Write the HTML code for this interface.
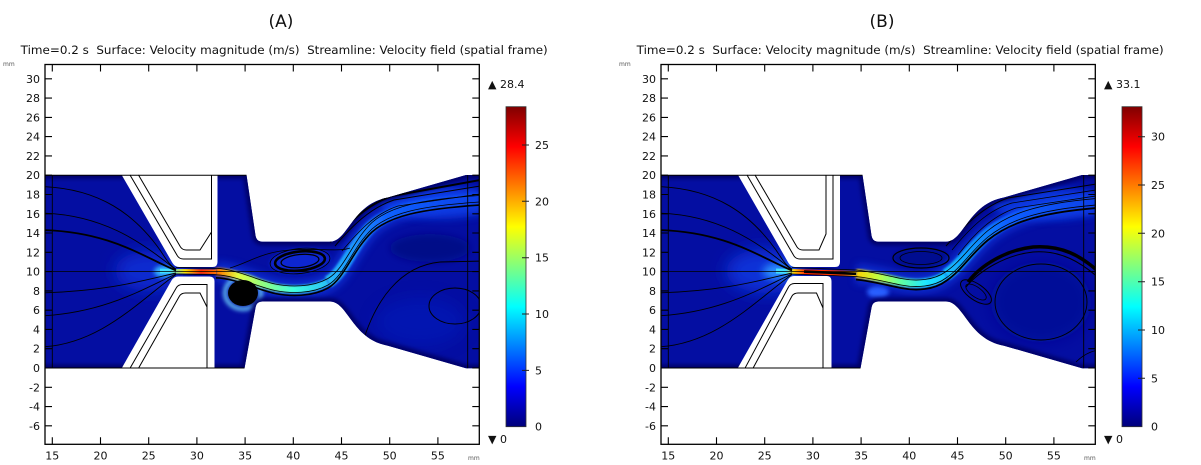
<!DOCTYPE html>
<html><head><meta charset="utf-8">
<style>
html,body{margin:0;padding:0;background:#fff}
svg{display:block}
text{font-family:"DejaVu Sans","Liberation Sans",sans-serif;fill:#111}
</style></head>
<body>
<svg xmlns="http://www.w3.org/2000/svg" xmlns:xlink="http://www.w3.org/1999/xlink" width="1201" height="465" viewBox="0 0 1201 465">
<defs>
  <linearGradient id="cbar" x1="0" y1="1" x2="0" y2="0">
    <stop offset="0" stop-color="#00007a"/>
    <stop offset="0.125" stop-color="#0000ff"/>
    <stop offset="0.375" stop-color="#00ffff"/>
    <stop offset="0.625" stop-color="#ffff00"/>
    <stop offset="0.875" stop-color="#ff0000"/>
    <stop offset="1" stop-color="#800000"/>
  </linearGradient>
  <linearGradient id="jA" gradientUnits="userSpaceOnUse" x1="170" y1="0" x2="480" y2="0">
    <stop offset="0" stop-color="#40e0ff"/>
    <stop offset="0.05" stop-color="#ffe000"/>
    <stop offset="0.1" stop-color="#ff3000"/>
    <stop offset="0.16" stop-color="#ff8000"/>
    <stop offset="0.22" stop-color="#e0ff40"/>
    <stop offset="0.3" stop-color="#90ff80"/>
    <stop offset="0.4" stop-color="#40ffe0"/>
    <stop offset="0.55" stop-color="#20a8ff"/>
    <stop offset="0.7" stop-color="#1060ff"/>
    <stop offset="1" stop-color="#0c40e8"/>
  </linearGradient>
  <linearGradient id="jB" gradientUnits="userSpaceOnUse" x1="170" y1="0" x2="480" y2="0">
    <stop offset="0" stop-color="#40e0ff"/>
    <stop offset="0.026" stop-color="#ffd000"/>
    <stop offset="0.065" stop-color="#ff2000"/>
    <stop offset="0.177" stop-color="#ff4000"/>
    <stop offset="0.226" stop-color="#ffd000"/>
    <stop offset="0.297" stop-color="#c0ff40"/>
    <stop offset="0.37" stop-color="#60ffa0"/>
    <stop offset="0.45" stop-color="#20e8ff"/>
    <stop offset="0.565" stop-color="#10a8ff"/>
    <stop offset="0.71" stop-color="#1060ff"/>
    <stop offset="1" stop-color="#0c40e8"/>
  </linearGradient>
  <clipPath id="plot"><rect x="45" y="64.5" width="434.3" height="379.8"/></clipPath>
  <path id="domain" d="M 40,175 L 246.5,175 L 255.5,235.5 Q 256.5,241.7 262.5,241.7 L 330,241.7 C 348,241.7 352,204 388,197.5 L 466,175 L 485,175 L 485,368.2 L 466,368.2 L 388,345.7 C 352,339.2 348,301.5 330,301.5 L 262.5,301.5 Q 256.5,301.5 255.5,307.7 L 244.5,368.2 L 40,368.2 Z"/>
  <clipPath id="dom"><use xlink:href="#domain"/></clipPath>
  <filter id="b1" x="-50%" y="-50%" width="200%" height="200%"><feGaussianBlur stdDeviation="1"/></filter>
  <filter id="b2" x="-50%" y="-50%" width="200%" height="200%"><feGaussianBlur stdDeviation="2"/></filter>
  <filter id="b4" x="-50%" y="-50%" width="200%" height="200%"><feGaussianBlur stdDeviation="4"/></filter>
  <filter id="b8" x="-50%" y="-50%" width="200%" height="200%"><feGaussianBlur stdDeviation="8"/></filter>
  <g id="leftlines" fill="none" stroke="#000">
    <path d="M 40,186.5 C 100,188 135,215 160,250 C 166,259 170,266 176,269" stroke-width="0.9"/>
    <path d="M 40,213 C 100,214 140,240 176,270" stroke-width="0.9"/>
    <path d="M 40,230 C 110,231 145,258 176,270.5" stroke-width="1.8"/>
    <path d="M 40,293 C 110,291 145,280 176,273" stroke-width="0.9"/>
    <path d="M 40,316 C 105,313 145,288 176,274" stroke-width="0.9"/>
    <path d="M 40,347 C 100,345 140,300 176,274.5" stroke-width="0.9"/>
    <path d="M 40,271.6 L 485,271.6" stroke-width="0.8"/>
    <path d="M 52.3,175 L 52.3,368.2" stroke-width="0.9"/>
    <path d="M 467.7,175 L 467.7,368.2" stroke-width="0.9"/>
    <path d="M 40,175.2 L 246.5,175.2 M 40,368 L 244.5,368" stroke-width="1"/>
  </g>
  <g id="axes" fill="none" stroke="#000">
    <rect x="45" y="64.5" width="434.3" height="379.8" stroke-width="1.3"/>
    <path stroke-width="1.1" d="M45,78.8h7M45,98.1h7M45,117.4h7M45,136.6h7M45,155.9h7M45,175.2h7M45,194.5h7M45,213.8h7M45,233h7M45,252.3h7M45,271.6h7M45,290.9h7M45,310.2h7M45,329.4h7M45,348.7h7M45,368h7M45,387.3h7M45,406.6h7M45,425.8h7
    M479.3,78.8h-7M479.3,98.1h-7M479.3,117.4h-7M479.3,136.6h-7M479.3,155.9h-7M479.3,175.2h-7M479.3,194.5h-7M479.3,213.8h-7M479.3,233h-7M479.3,252.3h-7M479.3,271.6h-7M479.3,290.9h-7M479.3,310.2h-7M479.3,329.4h-7M479.3,348.7h-7M479.3,368h-7M479.3,387.3h-7M479.3,406.6h-7M479.3,425.8h-7
    M52.3,444.3v-7M100.5,444.3v-7M148.7,444.3v-7M196.9,444.3v-7M245.1,444.3v-7M293.3,444.3v-7M341.5,444.3v-7M389.7,444.3v-7M437.9,444.3v-7
    M52.3,64.5v7M100.5,64.5v7M148.7,64.5v7M196.9,64.5v7M245.1,64.5v7M293.3,64.5v7M341.5,64.5v7M389.7,64.5v7M437.9,64.5v7"/>
  </g>
</defs>

<!-- ================= PANEL A ================= -->
<g>
  <g clip-path="url(#plot)">
    <use xlink:href="#domain" fill="#040ea2"/>
    <g clip-path="url(#dom)">
      <ellipse cx="150" cy="271" rx="35" ry="20" fill="#0a2cd0" filter="url(#b8)"/>
      <ellipse cx="164" cy="271.5" rx="10" ry="6" fill="#30b0ff" filter="url(#b2)"/>
      <ellipse cx="440" cy="203" rx="60" ry="16" fill="#1040e8" opacity="0.75" filter="url(#b4)"/>
      <ellipse cx="430" cy="248" rx="40" ry="14" fill="#000a88" filter="url(#b4)"/>
      <ellipse cx="420" cy="322" rx="45" ry="25" fill="#041cc0" opacity="0.5" filter="url(#b8)"/>
      <ellipse cx="300" cy="261" rx="30" ry="12" fill="#0826d0" transform="rotate(-6 300 261)" filter="url(#b2)"/>
      <path d="M 216,271.8 C 236,272.5 255,283 275,287.5 C 290,290.5 312,291 328,282 C 345,272 352,245 372,226 C 390,210 420,203 480,199" fill="none" stroke="#1448f8" stroke-width="20" opacity="0.5" filter="url(#b4)"/>
      <ellipse cx="243" cy="293" rx="18" ry="16" fill="none" stroke="#70d8ff" stroke-width="3.5" filter="url(#b2)"/>
      <path d="M 160,271 L 216,271.8" fill="none" stroke="url(#jA)" stroke-width="4.5"/>
      <path d="M 216,271.8 C 236,272.5 255,283 275,287.5 C 290,290.5 312,291 328,282" fill="none" stroke="url(#jA)" stroke-width="8" filter="url(#b1)"/>
      <path d="M 328,282 C 345,272 352,245 372,226 C 390,210 420,203 480,199" fill="none" stroke="url(#jA)" stroke-width="12" filter="url(#b1)"/>
      <use xlink:href="#domain" fill="none" stroke="#000066" stroke-width="7" filter="url(#b2)"/>
    </g>
    <path d="M 121.7,174.5 L 217.5,174.5 L 217.5,262 Q 217.5,267 212.5,267 L 179,267 Q 175,267 172.5,263 L 121.7,175 Z" fill="#fff"/>
    <path d="M 121.7,369 L 214.5,369 L 214.5,281.5 Q 214.5,276.5 209.5,276.5 L 178,276.5 Q 174,276.5 171.5,280.5 L 121.7,368.2 Z" fill="#fff"/>
    <use xlink:href="#leftlines"/>
    <g fill="none" stroke="#000">
      <path d="M 130,175 L 177.5,256 Q 179.5,259 183.5,259 L 211.5,259 L 211.5,175" stroke-width="1"/>
      <path d="M 138.5,175 L 180.5,247 Q 182.5,250 186.5,250 L 200,250 L 211.5,232" stroke-width="1"/>
      <path d="M 130,368.2 L 176.5,287.5 Q 178.5,284.5 182.5,284.5 L 207,284.5 L 207,368.2" stroke-width="1"/>
      <path d="M 138.5,368.2 L 179.5,296 Q 181.5,293 185.5,293 L 200,293 L 207,307" stroke-width="1"/>
      <g clip-path="url(#dom)">
        <path d="M 176,271 L 216,271.8 C 236,272.5 255,283 275,287.5 C 290,290.5 312,291 328,282 C 345,272 352,245 372,226 C 390,210 420,203 480,199" stroke-width="0.8" transform="translate(0,-3.5)"/>
        <path d="M 176,271 L 216,271.8 C 236,272.5 255,283 275,287.5 C 290,290.5 312,291 328,282 C 345,272 352,245 372,226 C 390,210 420,203 480,199" stroke-width="0.8" transform="translate(0,3)"/>
        <path d="M 216,271.8 C 236,272.5 255,283 275,287.5 C 290,290.5 312,291 328,282 C 345,272 352,245 372,226 C 390,210 420,203 480,199" stroke-width="1.6" transform="translate(0,6)"/>
        <path d="M 330,242 C 350,222 368,204 392,196 L 480,180" stroke-width="2"/>
        <path d="M 335,246 C 352,226 370,208 394,200 L 480,186" stroke-width="1"/>
        <path d="M 342,251 C 358,232 374,214 398,206 L 480,194" stroke-width="0.8"/>
        <path d="M 362,345 C 375,300 400,266 440,262 L 485,261" stroke-width="0.9"/>
        <path d="M 230,268 C 250,262 262,252 290,250 C 320,248 340,252 350,248" stroke-width="0.8"/>
      </g>
      <g transform="rotate(-6 300 261)">
        <ellipse cx="300" cy="261" rx="30" ry="12.5" stroke-width="0.8"/>
        <ellipse cx="300" cy="261" rx="25" ry="9.5" stroke-width="2.6"/>
        <ellipse cx="300" cy="261" rx="19" ry="6.5" stroke-width="1.3"/>
      </g>
      <ellipse cx="455" cy="306" rx="26" ry="18" stroke-width="1"/>
    </g>
    <ellipse cx="243" cy="293" rx="15" ry="13" fill="#000"/>
  </g>
  <use xlink:href="#axes"/>
  <rect x="506" y="106.7" width="20" height="320" fill="url(#cbar)" stroke="#333" stroke-width="0.8"/>
  <path d="M522,370.4h7M522,314h7M522,257.7h7M522,201.3h7M522,145h7" stroke="#222" stroke-width="1"/>
</g>
<text x="281" y="27" font-size="17" text-anchor="middle">(A)</text>
<text x="20.7" y="54" font-size="11.5" xml:space="preserve" style="white-space:pre" textLength="527" lengthAdjust="spacingAndGlyphs">Time=0.2 s  Surface: Velocity magnitude (m/s)  Streamline: Velocity field (spatial frame)</text>
<text x="3" y="66" font-size="6" style="fill:#555">mm</text>
<text x="468" y="460" font-size="6" style="fill:#555">mm</text>
<g font-size="11" text-anchor="end">
  <text x="40" y="82.8">30</text><text x="40" y="102.1">28</text><text x="40" y="121.4">26</text><text x="40" y="140.6">24</text><text x="40" y="159.9">22</text><text x="40" y="179.2">20</text><text x="40" y="198.5">18</text><text x="40" y="217.8">16</text><text x="40" y="237">14</text><text x="40" y="256.3">12</text><text x="40" y="275.6">10</text><text x="40" y="294.9">8</text><text x="40" y="314.2">6</text><text x="40" y="333.4">4</text><text x="40" y="352.7">2</text><text x="40" y="372">0</text><text x="40" y="391.3">-2</text><text x="40" y="410.6">-4</text><text x="40" y="429.8">-6</text>
</g>
<g font-size="11" text-anchor="middle">
  <text x="52.3" y="459.3">15</text><text x="100.5" y="459.3">20</text><text x="148.7" y="459.3">25</text><text x="196.9" y="459.3">30</text><text x="245.1" y="459.3">35</text><text x="293.3" y="459.3">40</text><text x="341.5" y="459.3">45</text><text x="389.7" y="459.3">50</text><text x="437.9" y="459.3">55</text>
</g>
<g font-size="11">
  <text x="535" y="149">25</text><text x="535" y="205.3">20</text><text x="535" y="261.7">15</text><text x="535" y="318">10</text><text x="535" y="374.4">5</text><text x="535" y="430.7">0</text>
  <text x="488" y="88">▲ 28.4</text>
  <text x="488" y="443">▼ 0</text>
</g>

<!-- ================= PANEL B ================= -->
<g transform="translate(616,0)">
  <g clip-path="url(#plot)">
    <use xlink:href="#domain" fill="#040ea2"/>
    <g clip-path="url(#dom)">
      <ellipse cx="150" cy="271" rx="40" ry="22" fill="#0a30d8" filter="url(#b8)"/>
      <ellipse cx="162" cy="271.5" rx="15" ry="8" fill="#2a90ff" filter="url(#b4)"/>
      <ellipse cx="435" cy="204" rx="60" ry="16" fill="#1040e8" opacity="0.75" filter="url(#b4)"/>
      <ellipse cx="425" cy="302" rx="50" ry="40" fill="#030c98" filter="url(#b8)"/>
      <ellipse cx="305" cy="258" rx="28" ry="10" fill="#030e90" filter="url(#b2)"/>
      <ellipse cx="262" cy="292" rx="11" ry="6" fill="#2a60ff" filter="url(#b2)"/>
      <path d="M 240,273.5 C 255,275 270,279 285,282 C 300,285 318,284 330,275 C 345,265 355,248 372,234 C 392,218 420,207 480,202" fill="none" stroke="#1448f8" stroke-width="20" opacity="0.5" filter="url(#b4)"/>
      <path d="M 160,271 L 240,273.5" fill="none" stroke="url(#jB)" stroke-width="5"/>
      <path d="M 240,273.5 C 255,275 270,279 285,282 C 300,285 318,284 330,275" fill="none" stroke="url(#jB)" stroke-width="9" filter="url(#b1)"/>
      <path d="M 330,275 C 345,265 355,248 372,234 C 392,218 420,207 480,202" fill="none" stroke="url(#jB)" stroke-width="12" filter="url(#b1)"/>
      <use xlink:href="#domain" fill="none" stroke="#000066" stroke-width="7" filter="url(#b2)"/>
    </g>
    <path d="M 122,174.5 L 224,174.5 L 224,262 Q 224,267 219,267 L 179,267 Q 175,267 172.5,263 L 122,175 Z" fill="#fff"/>
    <path d="M 121.7,369 L 215.5,369 L 215.5,281.5 Q 215.5,276 210.5,276 L 178,276 Q 174,276 171.5,280.5 L 121.7,368.2 Z" fill="#fff"/>
    <use xlink:href="#leftlines"/>
    <g fill="none" stroke="#000">
      <path d="M 131,175 L 178,256 Q 180,259 184,259 L 217,259 L 217,175" stroke-width="1"/>
      <path d="M 139,175 L 181,247 Q 183,250 187,250 L 203,250 L 210,234 L 210,175" stroke-width="1"/>
      <path d="M 129,368.2 L 172.5,287 Q 174.5,283.5 178.5,283.5 L 207,283.5 L 207,368.2" stroke-width="1"/>
      <path d="M 137,368.2 L 176,296 Q 178,293 182,293 L 200.5,293 L 207,308" stroke-width="1"/>
      <g clip-path="url(#dom)">
        <path d="M 188,271.6 L 240,273.8" stroke-width="2.6"/>
        <path d="M 176,271 L 240,273.5 C 255,275 270,279 285,282 C 300,285 318,284 330,275 C 345,265 355,248 372,234 C 392,218 420,207 480,202" stroke-width="0.8" transform="translate(0,-3.5)"/>
        <path d="M 176,271 L 240,273.5 C 255,275 270,279 285,282 C 300,285 318,284 330,275 C 345,265 355,248 372,234 C 392,218 420,207 480,202" stroke-width="0.8" transform="translate(0,3)"/>
        <path d="M 240,273.5 C 255,275 270,279 285,282 C 300,285 318,284 330,275 C 345,265 355,248 372,234 C 392,218 420,207 480,202" stroke-width="1.8" transform="translate(0,6)"/>
        <path d="M 330,246 C 350,224 368,206 392,198 L 480,184" stroke-width="1"/>
        <path d="M 336,250 C 354,228 372,210 396,203 L 480,190" stroke-width="0.8"/>
        <path d="M 342,255 C 358,234 376,216 400,208 L 480,196" stroke-width="0.8"/>
        <path d="M 352,282 C 365,265 390,250 417,247 C 445,245 465,255 485,274" stroke-width="3.4"/>
        <path d="M 350,287 C 364,270 390,255 417,252 C 445,250 465,262 485,280" stroke-width="1"/>
        <ellipse cx="425" cy="302" rx="46" ry="38" stroke-width="0.9"/>
        <ellipse cx="360" cy="292" rx="18" ry="8" transform="rotate(35 360 292)" stroke-width="1"/>
        <ellipse cx="360" cy="292" rx="12" ry="5" transform="rotate(35 360 292)" stroke-width="0.8"/>
        <path d="M 460,362 C 470,352 480,350 485,350" stroke-width="0.8"/>
      </g>
      <ellipse cx="305" cy="258" rx="28" ry="10" stroke-width="1.2"/>
      <ellipse cx="305" cy="258" rx="21" ry="6.5" stroke-width="0.8"/>
    </g>
  </g>
  <use xlink:href="#axes"/>
  <rect x="506" y="106.7" width="20" height="320" fill="url(#cbar)" stroke="#333" stroke-width="0.8"/>
  <path d="M522,378.3h7M522,330h7M522,281.7h7M522,233.3h7M522,185h7M522,136.7h7" stroke="#222" stroke-width="1"/>
</g>
<text x="882" y="27" font-size="17" text-anchor="middle">(B)</text>
<text x="636.7" y="54" font-size="11.5" xml:space="preserve" style="white-space:pre" textLength="527" lengthAdjust="spacingAndGlyphs">Time=0.2 s  Surface: Velocity magnitude (m/s)  Streamline: Velocity field (spatial frame)</text>
<text x="619" y="66" font-size="6" style="fill:#555">mm</text>
<text x="1084" y="460" font-size="6" style="fill:#555">mm</text>
<g font-size="11" text-anchor="end">
  <text x="656" y="82.8">30</text><text x="656" y="102.1">28</text><text x="656" y="121.4">26</text><text x="656" y="140.6">24</text><text x="656" y="159.9">22</text><text x="656" y="179.2">20</text><text x="656" y="198.5">18</text><text x="656" y="217.8">16</text><text x="656" y="237">14</text><text x="656" y="256.3">12</text><text x="656" y="275.6">10</text><text x="656" y="294.9">8</text><text x="656" y="314.2">6</text><text x="656" y="333.4">4</text><text x="656" y="352.7">2</text><text x="656" y="372">0</text><text x="656" y="391.3">-2</text><text x="656" y="410.6">-4</text><text x="656" y="429.8">-6</text>
</g>
<g font-size="11" text-anchor="middle">
  <text x="668.3" y="459.3">15</text><text x="716.5" y="459.3">20</text><text x="764.7" y="459.3">25</text><text x="812.9" y="459.3">30</text><text x="861.1" y="459.3">35</text><text x="909.3" y="459.3">40</text><text x="957.5" y="459.3">45</text><text x="1005.7" y="459.3">50</text><text x="1053.9" y="459.3">55</text>
</g>
<g font-size="11">
  <text x="1151" y="140.7">30</text><text x="1151" y="189">25</text><text x="1151" y="237.3">20</text><text x="1151" y="285.7">15</text><text x="1151" y="334">10</text><text x="1151" y="382.3">5</text><text x="1151" y="430.7">0</text>
  <text x="1104" y="88">▲ 33.1</text>
  <text x="1104" y="443">▼ 0</text>
</g>
</svg>
</body></html>
